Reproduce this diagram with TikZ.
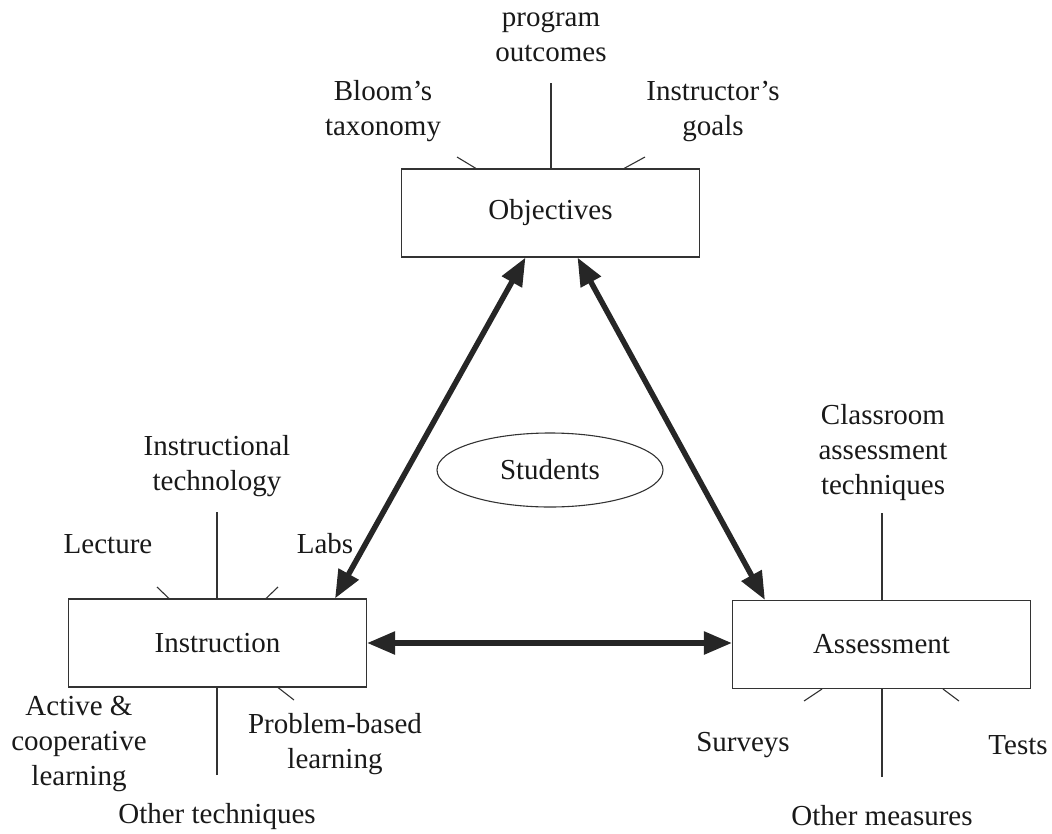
\documentclass[tikz,border=0pt]{standalone}
\usepackage{fontspec}
\setmainfont{Liberation Serif}
\usetikzlibrary{arrows.meta,shapes.geometric,calc}
\begin{document}
\begin{tikzpicture}[x=1pt,y=-1pt,
  box/.style={draw=black!80,line width=1.1pt,rectangle,minimum width=298pt,minimum height=88pt,inner sep=0pt,font=\fontsize{29}{35}\selectfont,text=black!90},
  lbl/.style={align=center,font=\fontsize{29}{35}\selectfont,inner sep=0pt,text=black!90},
  spoke/.style={draw=black!80,line width=1.1pt},
  big/.style={line width=5.5pt,draw=black!85,{Triangle[length=28pt,width=22pt]}-{Triangle[length=28pt,width=22pt]}}
]
\useasboundingbox (0,0) rectangle (1052,833);

% main boxes
\node[box] (obj) at (550.5,213) {Objectives};
\node[box] (ins) at (217.5,643) {Instruction};
\node[box] (asm) at (881.5,644.5) {Assessment};
\node[draw=black!80,line width=1.1pt,ellipse,minimum width=226pt,minimum height=74pt,inner sep=0pt,font=\fontsize{29}{35}\selectfont,text=black!90] (stu) at (550,470) {Students};

% labels
\node[lbl] (prog) at (551,37) {program\\outcomes};
\node[lbl] (bloom) at (383,111) {Bloom's\\taxonomy};
\node[lbl] (igoal) at (713,111) {Instructor's\\goals};
\node[lbl] (itech) at (217,466) {Instructional\\technology};
\node[lbl] (lect) at (108,544) {Lecture};
\node[lbl] (labs) at (325,544) {Labs};
\node[lbl] (acl) at (79,744) {Active \&\\cooperative\\learning};
\node[lbl] (pbl) at (335,744) {Problem-based\\learning};
\node[lbl] (otech) at (217,817) {Other techniques};
\node[lbl] (cat) at (883,453) {Classroom\\assessment\\techniques};
\node[lbl] (surv) at (743,745) {Surveys};
\node[lbl] (tests) at (1018,745) {Tests};
\node[lbl] (omeas) at (882,816) {Other measures};

% free ends of spokes
\coordinate (progE) at (551,83);
\coordinate (bloomE) at (457,157);
\coordinate (igoalE) at (645,157);
\coordinate (itechE) at (217,512);
\coordinate (lectE) at (157,587);
\coordinate (labsE) at (278,587);
\coordinate (otechE) at (217,775);
\coordinate (pblE) at (294,700);
\coordinate (catE) at (882,513);
\coordinate (omeasE) at (882,777);
\coordinate (survE) at (804,701);
\coordinate (testsE) at (959,701);

% spokes
\draw[spoke] (progE) -- (progE |- obj.north);
\draw[spoke] (bloomE) -- ([xshift=75pt]obj.north west);
\draw[spoke] (igoalE) -- ([xshift=-76pt]obj.north east);
\draw[spoke] (itechE) -- (itechE |- ins.north);
\draw[spoke] (lectE) -- ([xshift=101pt]ins.north west);
\draw[spoke] (labsE) -- ([xshift=-101pt]ins.north east);
\draw[spoke] (otechE) -- (otechE |- ins.south);
\draw[spoke] (pblE) -- ([xshift=-89pt]ins.south east);
\draw[spoke] (catE) -- (catE |- asm.north);
\draw[spoke] (omeasE) -- (omeasE |- asm.south);
\draw[spoke] (survE) -- ([xshift=90pt]asm.south west);
\draw[spoke] (testsE) -- ([xshift=-88pt]asm.south east);

% thick double arrows
\draw[big] ([xshift=-32pt]ins.north east) -- ([xshift=-25pt]obj.south);
\draw[big] ([xshift=27pt]obj.south) -- ([xshift=33pt]asm.north west);
\draw[big] (ins.east) -- (ins.east -| asm.west);
\end{tikzpicture}
\end{document}
